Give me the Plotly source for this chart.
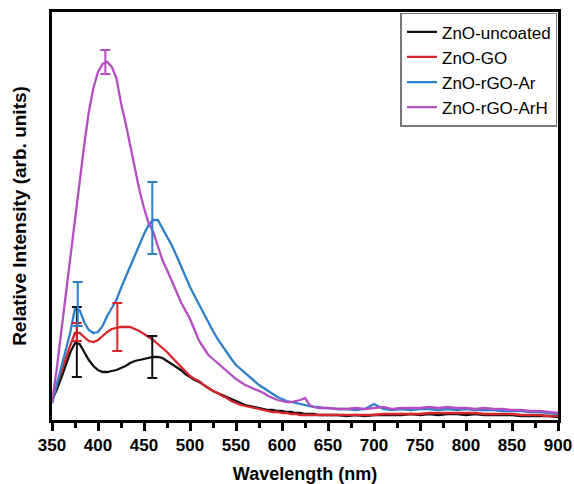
import plotly.graph_objects as go

# Wavelength grid (nm)
wavelength = list(range(350, 655, 5)) + list(range(660, 910, 10))

# Relative intensity (arb. units)
zno_uncoated = [20, 30, 42, 55, 68, 77, 76, 68, 60, 54, 50, 48, 48, 49, 50, 52, 54, 57, 59, 60,
                61, 62, 63, 63, 62, 59, 56, 53, 50, 46, 43, 40, 38, 35, 32, 29, 27, 25, 23, 21,
                19, 17, 15, 14, 13, 12, 11, 10, 10, 9, 9, 8, 8, 7, 7, 6, 6, 6, 5, 5, 5,
                5, 4, 5, 4, 5, 5, 5, 5, 6, 5, 6, 5, 6, 6, 5, 6, 5, 5, 5, 5, 4, 4, 4, 4, 3]
zno_go = [17, 35, 48, 62, 75, 87, 87, 83, 79, 78, 80, 84, 88, 91, 92, 93, 93, 93, 91, 89,
          86, 83, 80, 76, 72, 68, 63, 58, 53, 49, 44, 41, 39, 35, 32, 29, 27, 24, 22, 19,
          17, 15, 14, 13, 12, 11, 10, 9, 8, 8, 7, 7, 6, 6, 5, 5, 5, 5, 5, 5, 5,
          5, 5, 5, 5, 5, 6, 6, 6, 6, 6, 7, 7, 7, 7, 7, 7, 6, 6, 6, 6, 5, 5, 5, 4, 4]
zno_rgo_ar = [17, 35, 52, 70, 88, 112, 110, 98, 90, 87, 88, 94, 104, 112, 120, 132, 143, 154, 165, 175,
              186, 195, 200, 200, 192, 184, 175, 165, 154, 143, 133, 124, 115, 106, 98, 89, 81, 74, 67, 61,
              55, 51, 47, 43, 39, 35, 32, 29, 26, 23, 21, 19, 18, 17, 16, 15, 14, 13, 13, 12, 12,
              11, 11, 10, 11, 16, 11, 10, 11, 10, 11, 11, 10, 11, 10, 11, 10, 10, 10, 9, 9, 9, 8, 8, 7, 6]
zno_rgo_arh = [18, 50, 88, 126, 164, 202, 240, 275, 308, 332, 348, 356, 358, 353, 342, 317, 297, 275, 251, 230,
               212, 197, 188, 174, 160, 150, 140, 129, 118, 109, 101, 90, 79, 72, 65, 61, 57, 53, 49, 45,
               41, 38, 35, 33, 31, 29, 27, 24, 22, 20, 19, 18, 18, 19, 20, 22, 15, 13, 12, 12, 12,
               11, 11, 12, 11, 12, 13, 11, 12, 12, 12, 13, 12, 13, 12, 12, 11, 12, 11, 11, 10, 10, 9, 9, 8, 7]

# Error bars
err_uncoated_x, err_uncoated_y, err_uncoated = [377, 459], [78, 63], [35, 21]
err_go_x, err_go_y, err_go = [377, 421], [88, 93], [9, 24]
err_ar_x, err_ar_y, err_ar = [378, 459], [116, 202], [22, 36]
err_arh_x, err_arh_y, err_arh = [408], [358], [12]

names = ["ZnO-uncoated", "ZnO-GO", "ZnO-rGO-Ar", "ZnO-rGO-ArH"]
colors = ["#111111", "#d7262b", "#2f80c8", "#b34fc1"]
series = [zno_uncoated, zno_go, zno_rgo_ar, zno_rgo_arh]
errors = [(err_uncoated_x, err_uncoated_y, err_uncoated),
          (err_go_x, err_go_y, err_go),
          (err_ar_x, err_ar_y, err_ar),
          (err_arh_x, err_arh_y, err_arh)]

fig = go.Figure()
for name, color, ys in zip(names, colors, series):
    fig.add_trace(go.Scatter(x=wavelength, y=ys, mode="lines", name=name,
                             line=dict(color=color, width=2.3)))
for name, color, (ex, ey, ee) in zip(names, colors, errors):
    fig.add_trace(go.Scatter(x=ex, y=ey, mode="markers", showlegend=False,
                             marker=dict(color="rgba(0,0,0,0)", size=1),
                             error_y=dict(type="data", array=ee, visible=True,
                                          color=color, thickness=2, width=5)))

font_family = "Arial, Liberation Sans, sans-serif"
fig.update_layout(
    width=574, height=484,
    margin=dict(l=52, r=16, t=12, b=64, autoexpand=False),
    paper_bgcolor="white", plot_bgcolor="white",
    font=dict(family=font_family, color="black"),
    showlegend=True,
    legend=dict(x=0.999, y=0.998, xanchor="right", yanchor="top",
                bordercolor="#777777", borderwidth=1.5, bgcolor="white",
                font=dict(size=17, color="black"), tracegroupgap=0),
)
fig.update_xaxes(
    range=[350, 900], dtick=50, tick0=350, automargin=False,
    showline=True, linecolor="black", linewidth=2.5, mirror=True,
    ticks="outside", ticklen=8, tickwidth=2.5, tickcolor="black",
    tickfont=dict(size=17, weight="bold", family=font_family),
    minor=dict(dtick=25, ticks="outside", ticklen=5, tickwidth=2.5, tickcolor="black"),
    showgrid=False, zeroline=False,
    title=dict(text="Wavelength (nm)", font=dict(size=18, weight="bold", family=font_family), standoff=23),
)
fig.update_yaxes(
    range=[0, 408], showticklabels=False, ticks="", automargin=False,
    showline=True, linecolor="black", linewidth=2.5, mirror=True,
    showgrid=False, zeroline=False,
    title=dict(text="Relative Intensity (arb. units)", font=dict(size=19, weight="bold", family=font_family), standoff=18),
)

fig.write_html("out.html")
